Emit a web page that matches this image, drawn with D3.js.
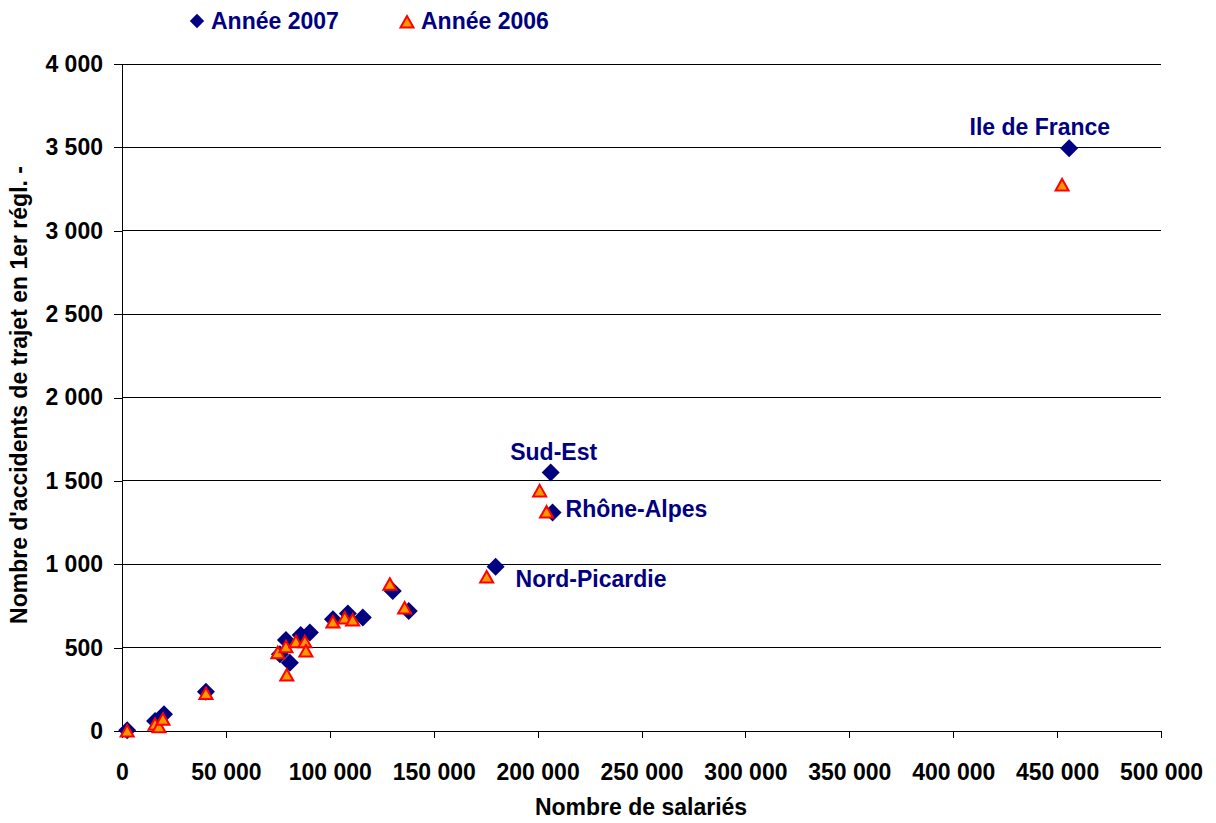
<!DOCTYPE html>
<head>
<meta charset="utf-8">
<title>Accidents de trajet</title>
<script src="https://cdn.jsdelivr.net/npm/d3@7/dist/d3.min.js"></script>
<style>
    body { margin: 0; background: #fff; }
    text { font-family: "Liberation Sans", Arial, sans-serif; font-weight: bold; }
</style>
</head>
<body>
<script>
    // 2007 series (salaries, accidents)
    var salaries2007  = [2500, 15900, 20200, 40400, 76000, 78900, 80800, 86000, 90400, 101500, 108700, 115900, 130300, 138000, 179800, 206300, 207200, 455800];
    var accidents2007 = [5, 60, 100, 235, 460, 545, 410, 575, 590, 670, 705, 680, 840, 720, 985, 1550, 1310, 3495];
    // 2006 series
    var salaries2006  = [2500, 15900, 17800, 19700, 40400, 75000, 78900, 79300, 83700, 88000, 88500, 101500, 107200, 111000, 128900, 136000, 175500, 201000, 204300, 452400];
    var accidents2006 = [0, 40, 25, 70, 225, 470, 505, 336, 535, 535, 480, 653, 677, 665, 880, 737, 923, 1440, 1313, 3275];

    // labelled regions (2007 points)
    var regionNames = ["Ile de France", "Sud-Est", "Rhône-Alpes", "Nord-Picardie"];
    var regionIdx   = [17, 15, 16, 14];

    var xTicks = d3.range(0, 500001, 50000);
    var yTicks = d3.range(0, 4001, 500);

    var navy = "#000080";
    var fs = "23px";
    var fr = d3.formatLocale({decimal: ",", thousands: " ", grouping: [3], currency: ["", " €"]});
    var fmt = fr.format(",d");

    var width = 1216, height = 823;
    var margin = {top: 64, right: 55, bottom: 92, left: 122};

    var svg = d3.select("body").append("svg")
        .attr("width", width)
        .attr("height", height);

    var x = d3.scaleLinear().domain([0, 500000]).range([margin.left, width - margin.right]);
    var y = d3.scaleLinear().domain([0, 4000]).range([height - margin.bottom, margin.top]);

    // gridlines
    svg.append("g")
        .selectAll("line")
        .data(yTicks.filter(d => d > 0))
        .enter()
        .append("line")
            .attr("x1", x(0))
            .attr("x2", x(500000))
            .attr("y1", d => y(d))
            .attr("y2", d => y(d))
            .attr("stroke", "#000")
            .attr("stroke-width", 1)
            .attr("shape-rendering", "crispEdges");

    // axes
    var gx = svg.append("g")
        .attr("transform", "translate(0," + y(0) + ")")
        .call(d3.axisBottom(x).tickValues(xTicks).tickFormat(fmt).tickSize(7).tickSizeOuter(0).tickPadding(26));
    var gy = svg.append("g")
        .attr("transform", "translate(" + x(0) + ",0)")
        .call(d3.axisLeft(y).tickValues(yTicks).tickFormat(fmt).tickSize(8).tickSizeOuter(0).tickPadding(11));

    [gx, gy].forEach(function(g) {
        g.selectAll("text").style("font-size", fs).attr("fill", "#000");
        g.selectAll("line, path").attr("stroke", "#000").attr("shape-rendering", "crispEdges");
    });

    // axis titles
    svg.append("text")
        .attr("x", 641)
        .attr("y", 815)
        .attr("text-anchor", "middle")
        .style("font-size", fs)
        .text("Nombre de salariés");

    svg.append("text")
        .attr("transform", "translate(27,395) rotate(-90)")
        .attr("text-anchor", "middle")
        .style("font-size", fs)
        .text("Nombre d'accidents de trajet en 1er régl. -");

    // markers
    var diamond = "M0,-9L9,0L0,9L-9,0Z";
    var triangle = "M0,-6L6.5,5.5L-6.5,5.5Z";

    svg.append("g")
        .selectAll("path")
        .data(salaries2007.map((s, i) => [s, accidents2007[i]]))
        .enter()
        .append("path")
            .attr("d", diamond)
            .attr("transform", d => "translate(" + x(d[0]) + "," + y(d[1]) + ")")
            .attr("fill", navy);

    svg.append("g")
        .selectAll("path")
        .data(salaries2006.map((s, i) => [s, accidents2006[i]]))
        .enter()
        .append("path")
            .attr("d", triangle)
            .attr("transform", d => "translate(" + x(d[0]) + "," + y(d[1]) + ")")
            .attr("fill", "#ff9900")
            .attr("stroke", "#ff0000")
            .attr("stroke-width", 2);

    // point labels
    var labelOffsets = [[41, -13, "end"], [3, -13, "middle"], [13, 4, "start"], [20, 20, "start"]];
    svg.append("g")
        .selectAll("text")
        .data(regionNames)
        .enter()
        .append("text")
            .attr("x", (d, i) => x(salaries2007[regionIdx[i]]) + labelOffsets[i][0])
            .attr("y", (d, i) => y(accidents2007[regionIdx[i]]) + labelOffsets[i][1])
            .attr("text-anchor", (d, i) => labelOffsets[i][2])
            .attr("fill", navy)
            .style("font-size", fs)
            .text(d => d);

    // legend
    var legend = svg.append("g");
    legend.append("path")
        .attr("d", diamond)
        .attr("transform", "translate(197,21) scale(0.8)")
        .attr("fill", navy);
    legend.append("text")
        .attr("x", 211).attr("y", 29)
        .attr("fill", navy)
        .style("font-size", fs)
        .text("Année 2007");
    legend.append("path")
        .attr("d", triangle)
        .attr("transform", "translate(407,22)")
        .attr("fill", "#ff9900")
        .attr("stroke", "#ff0000")
        .attr("stroke-width", 2);
    legend.append("text")
        .attr("x", 421).attr("y", 29)
        .attr("fill", navy)
        .style("font-size", fs)
        .text("Année 2006");
</script>
</body>
</html>
